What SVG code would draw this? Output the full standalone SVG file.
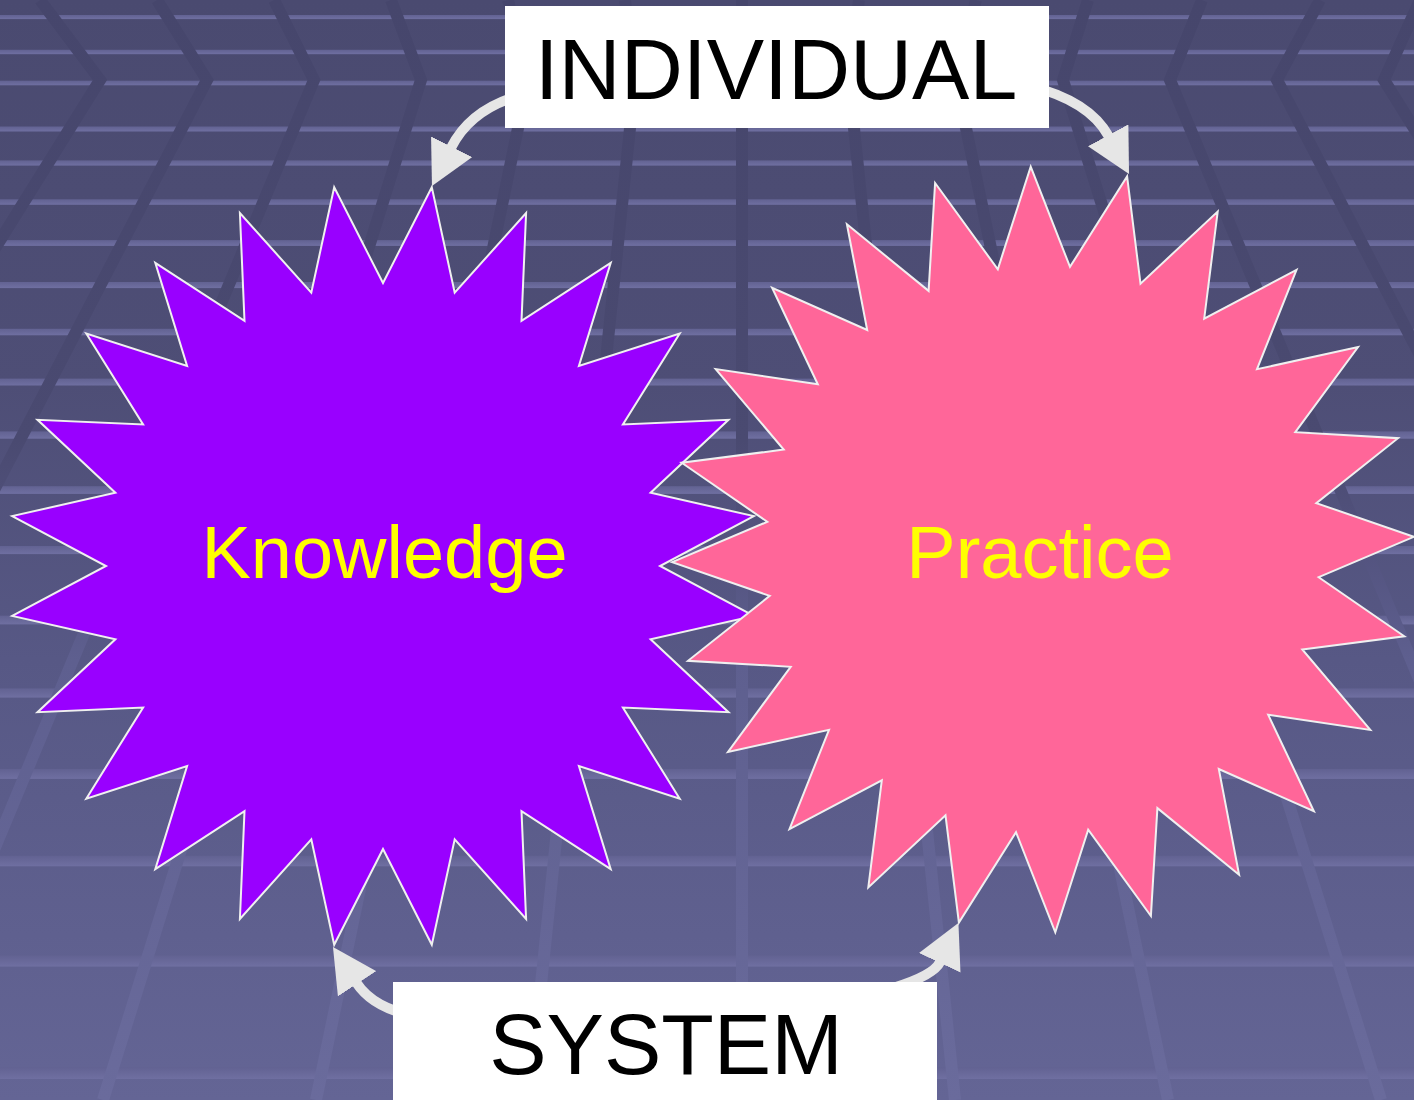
<svg xmlns="http://www.w3.org/2000/svg" width="1414" height="1100" viewBox="0 0 1414 1100">
<defs>
<style>
.band{fill:url(#bandGrad)}
.vline{fill:none;stroke:url(#vGrad);stroke-width:12;stroke-linejoin:miter}
.star{stroke:#f0f0f0;stroke-width:2;stroke-linejoin:miter}
.node-label{font-family:"Liberation Sans",Arial,sans-serif;font-size:74px;fill:#ffff00;text-anchor:middle}
.box{fill:#ffffff}
.box-label{font-family:"Liberation Sans",Arial,sans-serif;font-size:86px;fill:#000000;text-anchor:middle}
.conn{fill:none;stroke:#e6e6e6;stroke-width:10;marker-end:url(#arrow)}
</style>
<linearGradient id="bgGrad" x1="0" y1="0" x2="0" y2="1">
<stop offset="0" stop-color="#4a4a70"/>
<stop offset="0.35" stop-color="#4e4e76"/>
<stop offset="0.6" stop-color="#575885"/>
<stop offset="0.85" stop-color="#5f608f"/>
<stop offset="1" stop-color="#646595"/>
</linearGradient>
<linearGradient id="bandGrad" x1="0" y1="0" x2="0" y2="1">
<stop offset="0" stop-color="#626292"/>
<stop offset="1" stop-color="#6f6fa1"/>
</linearGradient>
<linearGradient id="vGrad" gradientUnits="userSpaceOnUse" x1="0" y1="0" x2="0" y2="1100">
<stop offset="0" stop-color="#46466c"/>
<stop offset="0.4" stop-color="#4a4a71"/>
<stop offset="0.5" stop-color="#53537f"/>
<stop offset="0.6" stop-color="#5e5f8f"/>
<stop offset="1" stop-color="#6a6b9c"/>
</linearGradient>
<marker id="arrow" markerUnits="userSpaceOnUse" viewBox="0 0 44 46" markerWidth="44" markerHeight="46" refX="1" refY="23" orient="auto">
<path d="M0,0 L44,23 L0,46 Z" fill="#e6e6e6"/>
</marker>
</defs>
<g id="background">
<rect x="0" y="0" width="1414" height="1100" fill="url(#bgGrad)"/>
<rect class="band" x="0" y="15" width="1414" height="4.1"/>
<rect class="band" x="0" y="49.8" width="1414" height="4.4"/>
<rect class="band" x="0" y="80.7" width="1414" height="4.6"/>
<rect class="band" x="0" y="126.5" width="1414" height="5"/>
<rect class="band" x="0" y="160.4" width="1414" height="5.2"/>
<rect class="band" x="0" y="199.3" width="1414" height="5.5"/>
<rect class="band" x="0" y="240.1" width="1414" height="5.8"/>
<rect class="band" x="0" y="282" width="1414" height="6.1"/>
<rect class="band" x="0" y="328.8" width="1414" height="6.5"/>
<rect class="band" x="0" y="378.6" width="1414" height="6.9"/>
<rect class="band" x="0" y="431.4" width="1414" height="7.3"/>
<rect class="band" x="0" y="486.2" width="1414" height="7.7"/>
<rect class="band" x="0" y="546" width="1414" height="8.1"/>
<rect class="band" x="0" y="615.7" width="1414" height="8.7"/>
<rect class="band" x="0" y="688.4" width="1414" height="9.2"/>
<rect class="band" x="0" y="769.1" width="1414" height="9.8"/>
<rect class="band" x="0" y="855.8" width="1414" height="10.5"/>
<rect class="band" x="0" y="955.4" width="1414" height="11.2"/>
<rect class="band" x="0" y="1067" width="1414" height="12"/>
<polyline class="vline" points="40,0 100,80 -536,1100"/>
<polyline class="vline" points="157,0 207,80 -323,1100"/>
<polyline class="vline" points="274,0 314,80 -110,1100"/>
<polyline class="vline" points="391,0 421,80 103,1100"/>
<polyline class="vline" points="508,0 528,80 316,1100"/>
<polyline class="vline" points="625,0 635,80 529,1100"/>
<polyline class="vline" points="742,0 742,80 742,1100"/>
<polyline class="vline" points="859,0 849,80 955,1100"/>
<polyline class="vline" points="976,0 956,80 1168,1100"/>
<polyline class="vline" points="1088,0 1063,80 1381,1100"/>
<polyline class="vline" points="1202,0 1170,80 1594,1100"/>
<polyline class="vline" points="1320,0 1277,80 1807,1100"/>
<polyline class="vline" points="1420,0 1384,80 2020,1100"/>
</g>
<g id="knowledge">
<polygon class="star" fill="#9900ff" points="431.8,187.3 454.7,292.6 526.1,213.1 521.5,320.9 610.7,262.9 578.9,365.9 679.7,333.5 622.9,424.5 728.5,419.8 650.6,492.8 753.8,516.1 660,566 753.8,615.9 650.6,639.3 728.5,712.2 622.9,707.5 679.7,798.6 578.9,766.1 610.7,869.1 521.5,811.1 526.1,918.9 454.7,839.4 431.8,944.7 383,849 334.2,944.7 311.3,839.4 239.9,918.9 244.5,811.1 155.3,869.1 187.1,766.1 86.3,798.6 143.1,707.5 37.5,712.2 115.4,639.3 12.2,615.9 106,566 12.2,516.1 115.4,492.8 37.5,419.8 143.1,424.5 86.3,333.5 187.1,365.9 155.3,262.9 244.5,320.9 239.9,213.1 311.3,292.6 334.2,187.3 383,283"/>
<text class="node-label" x="384.5" y="578">Knowledge</text>
</g>
<g id="practice">
<polygon class="star" fill="#ff6699" points="1030.7,166.7 1070,266.9 1127.1,176.5 1140.5,283.7 1217.7,211.6 1204.2,318.6 1296.5,269.9 1257,369.2 1358,347.1 1295.3,432.2 1398,438.2 1316.3,503.1 1413.8,536.8 1318.7,577.2 1404.3,636.3 1302.3,649.4 1370.3,729.9 1268.2,714.8 1313.9,811.2 1218.8,769 1239.1,874.7 1157.4,808.1 1150.9,916 1088.2,829.7 1055.3,932.3 1016,832.1 958.9,922.5 945.5,815.3 868.3,887.4 881.8,780.4 789.5,829.1 829,729.8 728,751.9 790.7,666.8 688,660.8 769.7,595.9 672.2,562.2 767.3,521.8 681.7,462.7 783.7,449.6 715.7,369.1 817.8,384.2 772.1,287.8 867.2,330 846.9,224.3 928.6,290.9 935.1,183 997.8,269.3"/>
<text class="node-label" x="1040" y="578">Practice</text>
</g>
<g id="connectors">
<path class="conn" d="M525,94 Q471.3,107.4 451.2,147.6"/>
<path class="conn" d="M1030,86 Q1089.6,101 1108.6,136.2"/>
<path class="conn" d="M415,1016 Q373.1,1008 356.6,982.9"/>
<path class="conn" d="M893,988 Q933.7,975.5 940.1,961.9"/>
</g>
<g id="individual">
<rect class="box" x="505" y="6" width="544" height="122"/>
<text class="box-label" x="776" y="99">INDIVIDUAL</text>
</g>
<g id="system">
<rect class="box" x="393" y="982" width="544" height="118"/>
<text class="box-label" x="666" y="1074">SYSTEM</text>
</g>
</svg>
